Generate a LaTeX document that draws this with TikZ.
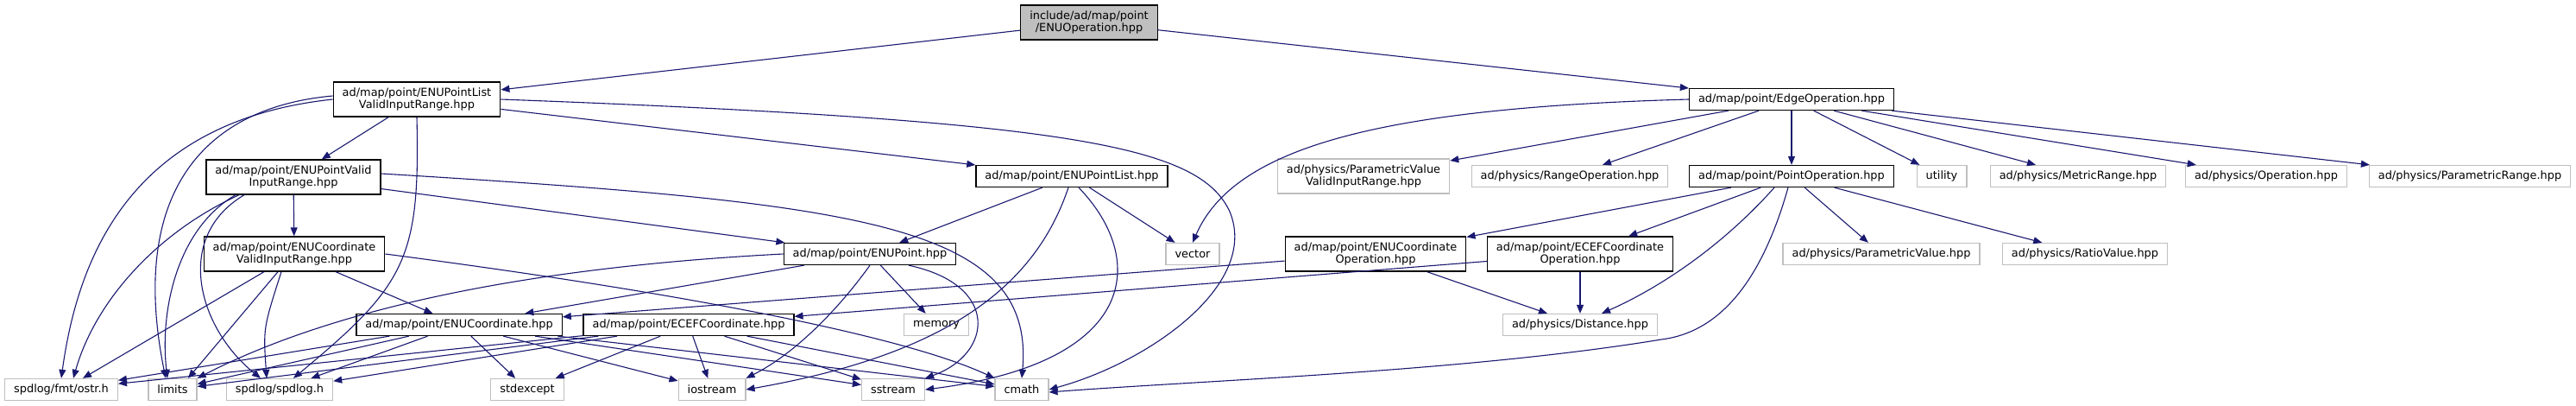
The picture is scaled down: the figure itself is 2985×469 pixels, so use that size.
\documentclass[tikz,border=0pt]{standalone}
\usepackage{fontspec}
\setmainfont{DejaVu Sans}
\usetikzlibrary{arrows.meta}
\definecolor{edgeblue}{HTML}{191970}
\definecolor{boxgray}{HTML}{BFBFBF}
\begin{document}
\begin{tikzpicture}[x=1pt, y=-1pt,
    font=\fontsize{12.9}{14.6}\selectfont,
    hdr/.style={draw=black, line width=1.3pt, inner xsep=10.5pt, inner ysep=4pt,
        minimum height=25pt, align=center},
    two/.style={minimum height=40pt},
    sys/.style={hdr, draw=boxgray},
    inc/.style={draw=edgeblue, line width=1.1pt, -{Triangle[length=10pt, width=8pt]}}]
    \useasboundingbox (0,0) rectangle (2985,469);

    \node[hdr, two, fill=boxgray] (op) at (1262,26) {include/ad/map/point\\/ENUOperation.hpp};

    \node[hdr, two] (plvir) at (483,115) {ad/map/point/ENUPointList\\ValidInputRange.hpp};
    \node[hdr] (edgeop) at (2076,115) {ad/map/point/EdgeOperation.hpp};

    \node[hdr, two] (pvir) at (340,205) {ad/map/point/ENUPointValid\\InputRange.hpp};
    \node[hdr] (plist) at (1242,204) {ad/map/point/ENUPointList.hpp};
    \node[sys, two] (pvvir) at (1580,204) {ad/physics/ParametricValue\\ValidInputRange.hpp};
    \node[sys] (rangeop) at (1819,204) {ad/physics/RangeOperation.hpp};
    \node[hdr] (pointop) at (2076,204) {ad/map/point/PointOperation.hpp};
    \node[sys] (utility) at (2250,204) {utility};
    \node[sys] (metric) at (2408,204) {ad/physics/MetricRange.hpp};
    \node[sys] (operation) at (2626,204) {ad/physics/Operation.hpp};
    \node[sys] (prange) at (2862,204) {ad/physics/ParametricRange.hpp};

    \node[hdr, two] (cvir) at (341,294) {ad/map/point/ENUCoordinate\\ValidInputRange.hpp};
    \node[hdr] (enupt) at (1008,294) {ad/map/point/ENUPoint.hpp};
    \node[sys] (vector) at (1382,294) {vector};
    \node[hdr, two] (enuop) at (1594,294) {ad/map/point/ENUCoordinate\\Operation.hpp};
    \node[hdr, two] (ecefop) at (1831,294) {ad/map/point/ECEFCoordinate\\Operation.hpp};
    \node[sys] (pvalue) at (2180,294) {ad/physics/ParametricValue.hpp};
    \node[sys] (ratio) at (2416,294) {ad/physics/RatioValue.hpp};

    \node[hdr] (enucoord) at (532,376) {ad/map/point/ENUCoordinate.hpp};
    \node[hdr] (ecefcoord) at (798,376) {ad/map/point/ECEFCoordinate.hpp};
    \node[sys] (memory) at (1085,376) {memory};
    \node[sys] (distance) at (1831,376) {ad/physics/Distance.hpp};

    \node[sys] (ostr) at (71,451) {spdlog/fmt/ostr.h};
    \node[sys] (limits) at (200,451) {limits};
    \node[sys] (spdlog) at (324,451) {spdlog/spdlog.h};
    \node[sys] (stdexcept) at (611,451) {stdexcept};
    \node[sys] (iostream) at (825,451) {iostream};
    \node[sys] (sstream) at (1035,451) {sstream};
    \node[sys] (cmath) at (1184,451) {cmath};

    \draw[inc] (op) -- (plvir);
    \draw[inc] (op) -- (edgeop);

    \draw[inc] (plvir) -- (pvir);
    \draw[inc] (plvir) -- (plist);
    \draw[inc] (plvir.east) .. controls (1250,140) and (1390,170) .. (1425,245)
        .. controls (1460,330) and (1330,420) .. (cmath.east);
    \draw[inc] (plvir.west) .. controls (150,140) and (90,300) .. (ostr.north);
    \draw[inc] ([yshift=4pt]plvir.west) .. controls (230,125) and (150,230) .. ([xshift=-8pt]limits.north);
    \draw[inc] (plvir.south) .. controls (487,300) and (470,330) .. ([xshift=16pt]spdlog.north);

    \draw[inc] (pvir) -- (cvir);
    \draw[inc] (pvir) -- (enupt);
    \draw[inc] ([yshift=4pt]pvir.east) .. controls (1000,235) and (1200,260) .. (cmath.north);
    \draw[inc] ([xshift=-63pt]pvir.south) .. controls (180,270) and (110,350) .. ([xshift=14pt]ostr.north);
    \draw[inc] ([xshift=-67pt]pvir.south) .. controls (205,265) and (185,360) .. ([xshift=-6pt]limits.north);
    \draw[inc] ([xshift=-57pt]pvir.south) .. controls (200,275) and (230,380) .. ([xshift=-22pt]spdlog.north);

    \draw[inc] (cvir) -- (enucoord);
    \draw[inc] ([xshift=-35pt]cvir.south) -- ([xshift=25pt]ostr.north);
    \draw[inc] ([xshift=-19pt]cvir.south) -- ([xshift=18pt]limits.north);
    \draw[inc] ([xshift=-15pt]cvir.south) .. controls (305,380) .. ([xshift=-15pt]spdlog.north);
    \draw[inc] (cvir.east) .. controls (800,340) and (1050,390) .. (cmath.north west);

    \draw[inc] (plist) -- (enupt);
    \draw[inc] (plist) -- (vector);
    \draw[inc] ([xshift=-4pt]plist.south) .. controls (1200,330) and (1100,410) .. (iostream.east);
    \draw[inc] ([xshift=8pt]plist.south) .. controls (1330,300) and (1320,420) .. (sstream.east);

    \draw[inc] (enupt) -- (enucoord);
    \draw[inc] (enupt.west) .. controls (600,310) and (380,360) .. (limits.north east);
    \draw[inc] (enupt) -- (memory);
    \draw[inc] (enupt.south) .. controls (970,360) and (920,410) .. (iostream.north east);
    \draw[inc] ([xshift=45pt]enupt.south) .. controls (1160,330) and (1150,410) .. (sstream.north east);

    \foreach \dst in {ostr, limits, spdlog, stdexcept, iostream, sstream, cmath}
        \draw[inc] (enucoord) -- (\dst);
    \foreach \dst in {ostr, limits, spdlog, stdexcept, iostream, sstream, cmath}
        \draw[inc] (ecefcoord) -- (\dst);

    \draw[inc] (edgeop.west) .. controls (1600,125) and (1430,170) .. (vector.north);
    \foreach \dst in {pvvir, rangeop, pointop, utility, metric, operation, prange}
        \draw[inc] (edgeop) -- (\dst);

    \foreach \dst in {enuop, ecefop, pvalue, ratio}
        \draw[inc] (pointop) -- (\dst);
    \draw[inc] ([xshift=-20pt]pointop.south) .. controls (2000,280) and (1930,330) .. ([xshift=25pt]distance.north);
    \draw[inc] ([xshift=-4pt]pointop.south) .. controls (2040,330) and (1990,385) .. (1925,393)
        .. controls (1700,430) and (1400,440) .. ([yshift=-3pt]cmath.east);

    \draw[inc] (enuop) -- (enucoord);
    \draw[inc] (enuop) -- (distance);
    \draw[inc] (ecefop) -- (ecefcoord);
    \draw[inc] (ecefop) -- (distance);
\end{tikzpicture}
\end{document}
